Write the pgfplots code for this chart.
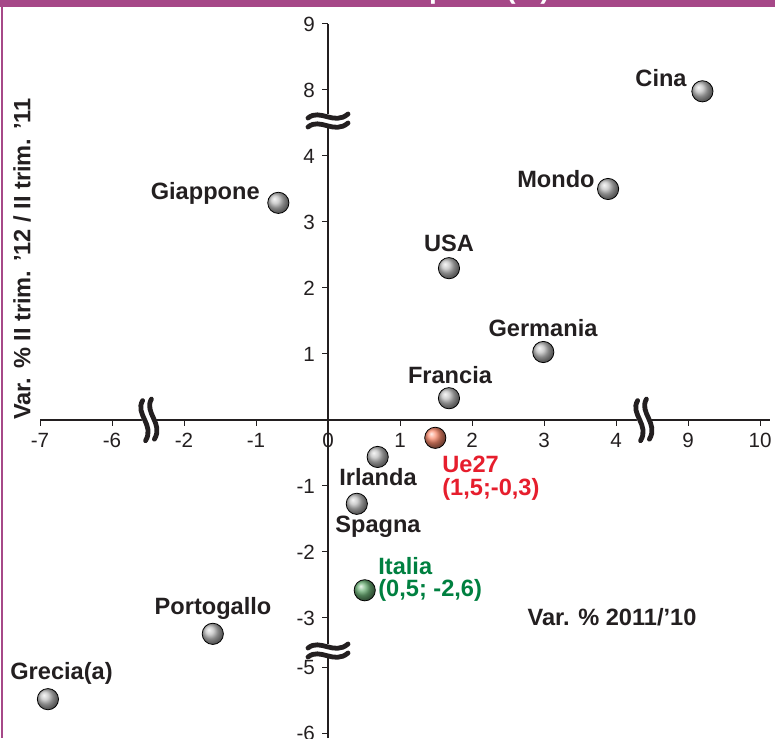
\documentclass[border=0pt]{standalone}
\usepackage{fontspec}
\setmainfont{Liberation Sans}
\usepackage{pgfplots}
\pgfplotsset{compat=1.18}

\definecolor{viola}{RGB}{166,72,136}
\definecolor{testo}{RGB}{35,31,32}
\definecolor{rosso}{RGB}{230,30,45}
\definecolor{verde}{RGB}{0,128,64}
\definecolor{pallagrigia}{RGB}{192,192,192}
\definecolor{pallarossa}{RGB}{250,140,110}
\definecolor{pallaverde}{RGB}{110,178,120}

\newcommand\lab{\fontsize{11.8}{14}\selectfont\bfseries}

% broken axis: positions are plotted, ticks relabelled
% x: -7->-4, -6->-3, -2..4 as is, 9->5, 10->6
% y: 9->6, 8->5, 4..-3 as is, -5->-3.75, -6->-4.75
\newcommand\onda{%
  \fill[white] (-10pt,-4pt) rectangle (10pt,3pt);
  \draw[line width=2.4pt, line cap=round, testo] (-10pt,1pt) .. controls (-4pt,6pt) and (3pt,-3pt) .. (10pt,3pt);
  \draw[line width=2.4pt, line cap=round, testo] (-10pt,-3.5pt) .. controls (-4pt,1.5pt) and (3pt,-7.5pt) .. (10pt,-1.5pt);}

\begin{document}
\begin{tikzpicture}
\begin{axis}[
  scale only axis,
  width=365.04pt, height=357.06pt,
  xmin=-4, xmax=6.14, ymin=-4.82, ymax=6,
  axis lines=middle,
  axis line style={-, line width=0.6pt, testo},
  tick align=outside,
  major tick length=3pt,
  tick style={line width=0.5pt, testo},
  hide obscured x ticks=false,
  xtick={-4,-3,...,6},
  xticklabels={-7,-6,-2,-1,0,1,2,3,4,9,10},
  ytick={6,5,4,3,2,1,-1,-2,-3,-3.75,-4.75},
  yticklabels={9,8,4,3,2,1,-1,-2,-3,-5,-6},
  ticklabel style={font=\fontsize{10.3}{12}\selectfont, text=testo},
  clip=false,
]
% frame
\fill[viola] (axis cs:-4.5556,6.3636) rectangle (axis cs:6.2083,6.2576);
\fill[viola] (axis cs:-4.5417,6.3636) rectangle (axis cs:-4.5139,-4.8182);
\begin{scope}
\clip (axis cs:-4.5556,6.3636) rectangle (axis cs:6.2083,6.2576);
\node[white, anchor=base west, inner sep=0, font=\fontsize{14}{16}\selectfont\bfseries] at (axis cs:1.40,6.392) {p};
\node[white, anchor=base west, inner sep=0, font=\fontsize{14}{16}\selectfont\bfseries] at (axis cs:2.47,6.392) {(\%)};
\end{scope}
\coordinate (tl) at (axis cs:-4.5556,6.3636);
\coordinate (br) at (axis cs:6.2083,-4.8182);
\coordinate (b1) at (axis cs:0,4.545);
\coordinate (b2) at (axis cs:0,-3.485);
\coordinate (b3) at (axis cs:-2.50,0);
\coordinate (b4) at (axis cs:4.375,0);

% countries (grey)
\addplot[only marks, mark=ball, mark size=5.3pt, mark options={ball color=pallagrigia}] coordinates {
(5.20,4.98) (3.89,3.50) (-0.69,3.29) (1.68,2.30) (2.99,1.03)
(1.68,0.33) (0.69,-0.56) (0.40,-1.27) (-1.60,-3.24) (-3.89,-4.23)
};
% Ue27
\addplot[only marks, mark=ball, mark size=5.3pt, mark options={ball color=pallarossa}] coordinates {(1.49,-0.27)};
% Italia
\addplot[only marks, mark=ball, mark size=5.3pt, mark options={ball color=pallaverde}] coordinates {(0.51,-2.58)};

\begin{scope}[every node/.style={inner sep=0, font=\lab, text=testo}]
\node[anchor=east] at (axis cs:4.986,5.182) {Cina};
\node[anchor=east] at (axis cs:3.708,3.652) {Mondo};
\node[anchor=east] at (axis cs:-0.944,3.439) {Giappone};
\node at (axis cs:1.681,2.682) {USA};
\node at (axis cs:2.986,1.394) {Germania};
\node at (axis cs:1.694,0.682) {Francia};
\node at (axis cs:0.694,-0.864) {Irlanda};
\node at (axis cs:0.694,-1.621) {Spagna};
\node at (axis cs:-1.597,-2.848) {Portogallo};
\node[anchor=west] at (axis cs:-4.417,-3.833) {Grecia(a)};
\node[text=rosso, anchor=west] at (axis cs:1.583,-0.667) {Ue27};
\node[text=rosso, anchor=west] at (axis cs:1.583,-1.045) {(1,5;-0,3)};
\node[text=verde, anchor=west] at (axis cs:0.694,-2.215) {Italia};
\node[text=verde, anchor=west] at (axis cs:0.694,-2.575) {(0,5; -2,6)};
\node at (axis cs:3.944,-2.985) {Var. \% 2011/’10};
\node[rotate=90] at (axis cs:-4.25,2.439) {Var. \% II trim. ’12 / II trim. ’11};
\end{scope}
\end{axis}

\begin{scope}[shift={(b1)}]\onda\end{scope}
\begin{scope}[shift={(b2)}]\onda\end{scope}
\begin{scope}[shift={(b3)}, rotate=-80, yscale=-1]\onda\end{scope}
\begin{scope}[shift={(b4)}, rotate=-80, yscale=-1]\onda\end{scope}

\pgfresetboundingbox
\useasboundingbox (tl) rectangle (br);
\end{tikzpicture}
\end{document}
